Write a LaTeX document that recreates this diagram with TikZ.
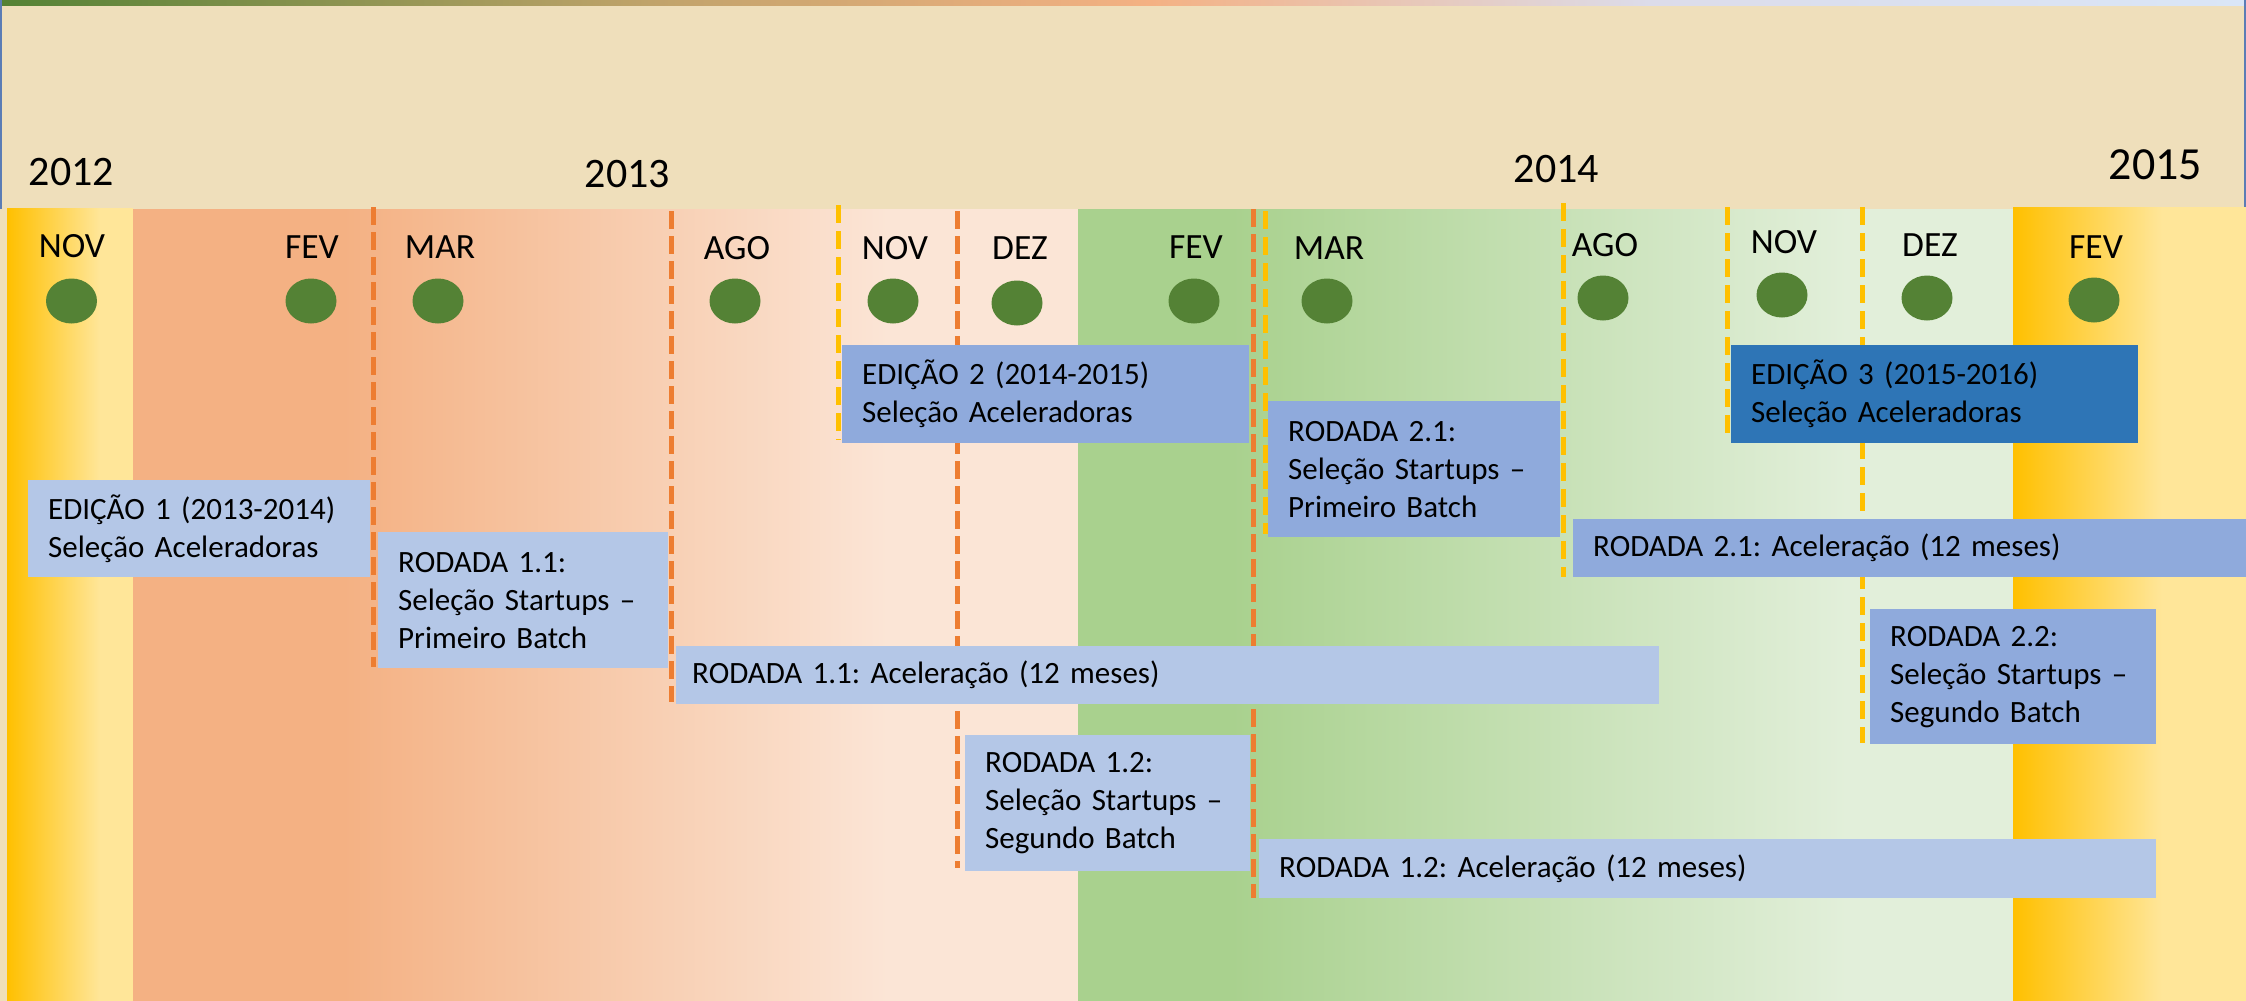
\documentclass[tikz,border=0pt]{standalone}
\usepackage{fontspec}
\setmainfont{Carlito}
\usetikzlibrary{shapes.geometric}
\definecolor{parch}{HTML}{EFDFBB}
\definecolor{edgeblue}{HTML}{5B7DB5}
\definecolor{tbgreen}{HTML}{548235}
\definecolor{tbtan}{HTML}{C0A36A}
\definecolor{tborange}{HTML}{F4B183}
\definecolor{tblav}{HTML}{DCDCEA}
\definecolor{tbblue}{HTML}{DAE6F7}
\definecolor{ydark}{HTML}{FFC000}
\definecolor{ylight}{HTML}{FFE699}
\definecolor{odark}{HTML}{F4B183}
\definecolor{olight}{HTML}{FBE5D6}
\definecolor{gdark}{HTML}{A9D18E}
\definecolor{glight}{HTML}{E2EFDA}
\definecolor{dotgreen}{HTML}{548235}
\definecolor{orline}{HTML}{ED7D31}
\definecolor{yeline}{HTML}{FFC000}
\definecolor{lb}{HTML}{B4C7E7}
\definecolor{mb}{HTML}{8FAADC}
\definecolor{db}{HTML}{2E75B6}
\tikzset{
  bx/.style={rectangle, inner xsep=20pt, inner ysep=0pt, anchor=north west, align=left,
    font=\fontsize{31}{38}\selectfont, text=black},
  month/.style={anchor=base, inner sep=0pt, font=\fontsize{35.5}{40}\selectfont},
  year/.style={anchor=base, inner sep=0pt, font=\fontsize{42}{46}\selectfont},
  dot/.style={ellipse, fill=dotgreen, draw=none, minimum width=51pt, minimum height=45pt, inner sep=0pt},
  od/.style={draw=orline, line width=5pt, dash pattern=on 18pt off 7pt},
  yd/.style={draw=yeline, line width=5pt, dash pattern=on 18pt off 8pt}
}
\begin{document}
\frenchspacing
\begin{tikzpicture}[x=1pt,y=-1pt]
\useasboundingbox (0,0) rectangle (2246,1001);
% parchment header
\fill[parch] (0,0) rectangle (2246,1001);
% top gradient bar
\shade[left color=tbgreen, right color=tbtan] (0,0) rectangle (650,5);
\shade[left color=tbtan, right color=tborange] (650,0) rectangle (1150,5);
\shade[left color=tborange, right color=tblav] (1150,0) rectangle (1650,5);
\shade[left color=tblav, right color=tbblue] (1650,0) rectangle (2246,5);
% edge lines
\fill[edgeblue] (0,0) rectangle (2,209);
\fill[edgeblue] (2244,0) rectangle (2246,209);
% bands
\shade[left color=ydark, right color=ylight] (7,208) rectangle (100,1001);
\fill[ylight] (99.5,208) rectangle (133,1001);
\fill[odark] (133,209) rectangle (344,1001);
\shade[left color=odark, right color=olight] (343.5,209) rectangle (888,1001);
\fill[olight] (887.5,209) rectangle (1078,1001);
\fill[gdark] (1078,209) rectangle (1232,1001);
\shade[left color=gdark, right color=glight] (1231.5,209) rectangle (1847,1001);
\fill[glight] (1846.5,209) rectangle (2013,1001);
\shade[left color=ydark, right color=ylight] (2013,207) rectangle (2162,1001);
\fill[ylight] (2161.5,207) rectangle (2246,1001);
% years
\node[year] (y12) at (71.5,185) {2012};
\node[year] (y13) at (627.5,187) {2013};
\node[year] (y14) at (1556.5,182) {2014};
\node[year, font=\fontsize{46}{50}\selectfont] (y15) at (2155.5,179) {2015};
% months
\node[month] (m1) at (72,257) {NOV};
\node[month] (m2) at (312,258) {FEV};
\node[month] (m3) at (440,258) {MAR};
\node[month] (m4) at (737,259) {AGO};
\node[month] (m5) at (895,259) {NOV};
\node[month] (m6) at (1020,259) {DEZ};
\node[month] (m7) at (1196,258) {FEV};
\node[month] (m8) at (1329,259) {MAR};
\node[month] (m9) at (1605,256) {AGO};
\node[month] (m10) at (1784,253) {NOV};
\node[month] (m11) at (1930,256) {DEZ};
\node[month] (m12) at (2096,258) {FEV};
% dots
\node[dot] (d1) at (71.5,301) {};
\node[dot] (d2) at (311,301) {};
\node[dot] (d3) at (438,301) {};
\node[dot] (d4) at (735,301) {};
\node[dot] (d5) at (893,301) {};
\node[dot] (d6) at (1017,303) {};
\node[dot] (d7) at (1194,301) {};
\node[dot] (d8) at (1327,301) {};
\node[dot] (d9) at (1603,298) {};
\node[dot] (d10) at (1782,295) {};
\node[dot] (d11) at (1927,298) {};
\node[dot] (d12) at (2094,300) {};
% dashed markers
\coordinate (o1t) at (373,207); \coordinate (o1b) at (373,667);
\coordinate (o2t) at (671,211); \coordinate (o2b) at (671,702);
\coordinate (o3t) at (957,211); \coordinate (o3b) at (957,868);
\coordinate (o4t) at (1253,209); \coordinate (o4b) at (1253,898);
\coordinate (y1t) at (838,205); \coordinate (y1b) at (838,440);
\coordinate (y2t) at (1265,211); \coordinate (y2b) at (1265,534);
\coordinate (y3t) at (1563,203); \coordinate (y3b) at (1563,577);
\coordinate (y4t) at (1727,207); \coordinate (y4b) at (1727,440);
\coordinate (y5t) at (1862,207); \coordinate (y5b) at (1862,743);
\draw[od] (o1t) -- (o1b);
\draw[od] (o2t) -- (o2b);
\draw[od] (o3t) -- (o3b);
\draw[od] (o4t) -- (o4b);
\draw[yd] (y1t) -- (y1b);
\draw[yd] (y2t) -- (y2b);
\draw[yd] (y3t) -- (y3b);
\draw[yd] (y4t) -- (y4b);
\draw[yd] (y5t) -- (y5b);
% boxes
\node[bx, fill=lb, minimum width=342pt, minimum height=97pt, text width=302pt] (e1) at (28,480)
  {EDIÇÃO 1 (2013-2014)\\Seleção Aceleradoras};
\node[bx, fill=lb, minimum width=290pt, minimum height=136pt, text width=250pt] (r11s) at (378,532)
  {RODADA 1.1:\\Seleção Startups –\\Primeiro Batch};
\node[bx, fill=lb, inner xsep=16pt, minimum width=983pt, minimum height=58pt, text width=951pt] (r11a) at (676,646)
  {RODADA 1.1: Aceleração (12 meses)};
\node[bx, fill=mb, minimum width=407pt, minimum height=98pt, text width=367pt] (e2) at (842,345)
  {EDIÇÃO 2 (2014-2015)\\Seleção Aceleradoras};
\node[bx, fill=mb, minimum width=292pt, minimum height=136pt, text width=252pt] (r21s) at (1268,401)
  {RODADA 2.1:\\Seleção Startups –\\Primeiro Batch};
\node[bx, fill=mb, minimum width=673pt, minimum height=58pt, text width=633pt] (r21a) at (1573,519)
  {RODADA 2.1: Aceleração (12 meses)};
\node[bx, fill=db, minimum width=407pt, minimum height=98pt, text width=367pt] (e3) at (1731,345)
  {EDIÇÃO 3 (2015-2016)\\Seleção Aceleradoras};
\node[bx, fill=mb, minimum width=286pt, minimum height=135pt, text width=246pt] (r22s) at (1870,609)
  {RODADA 2.2:\\Seleção Startups –\\Segundo Batch};
\node[bx, fill=lb, minimum width=285pt, minimum height=136pt, text width=245pt] (r12s) at (965,735)
  {RODADA 1.2:\\Seleção Startups –\\Segundo Batch};
\node[bx, fill=lb, minimum width=897pt, minimum height=59pt, text width=857pt] (r12a) at (1259,839)
  {RODADA 1.2: Aceleração (12 meses)};
\end{tikzpicture}
\end{document}
